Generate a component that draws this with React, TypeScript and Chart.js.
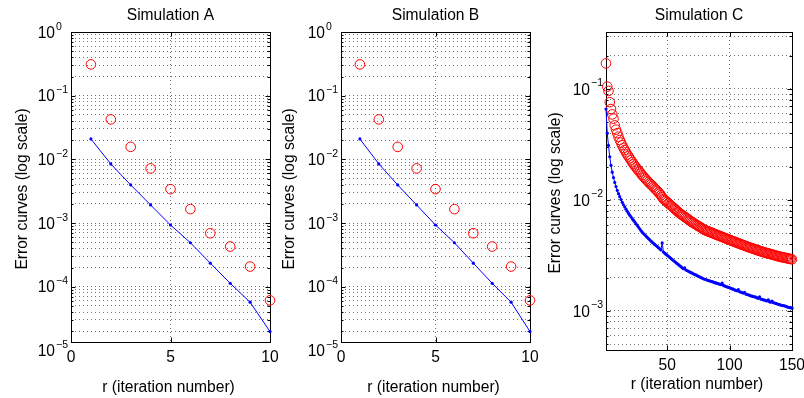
import React, { useEffect, useRef } from 'react';
import { Chart, registerables } from 'chart.js';

Chart.register(...registerables);

// ---------- data ----------
const iterAB = [1, 2, 3, 4, 5, 6, 7, 8, 9, 10];
const simA_red = [0.31, 0.0424, 0.0157, 0.0072, 0.0034, 0.00165, 0.00069, 0.000427, 0.000207, 0.000061];
const simA_blue = [0.0209, 0.00847, 0.00396, 0.00192, 0.00093, 0.00049, 0.000234, 0.000113, 0.000057, 0.0000197];
const simB_red = [0.31, 0.0424, 0.0157, 0.0072, 0.0034, 0.00165, 0.00069, 0.000427, 0.000207, 0.000061];
const simB_blue = [0.0209, 0.00847, 0.00396, 0.00192, 0.00093, 0.00049, 0.000234, 0.000113, 0.000057, 0.0000197];

const simC_red = [
  0.170, 0.105, 0.096, 0.076, 0.066, 0.059, 0.054, 0.047, 0.043, 0.040,
  0.0372, 0.0347, 0.0329, 0.0311, 0.0295, 0.0282, 0.0269, 0.0257, 0.0247, 0.0237,
  0.0228, 0.0219, 0.0211, 0.0204, 0.0197, 0.0190, 0.0185, 0.0179, 0.0173, 0.0167,
  0.0162, 0.0158, 0.0153, 0.0149, 0.0145, 0.0141, 0.0138, 0.0134, 0.0131, 0.0127,
  0.0124, 0.0121, 0.0117, 0.0114, 0.0110, 0.0106, 0.0102, 0.0100, 0.0098, 0.00955,
  0.00933, 0.00912, 0.00891, 0.00871, 0.0085, 0.00832, 0.00813, 0.00794, 0.00776, 0.0076,
  0.00745, 0.00731, 0.00718, 0.00705, 0.00692, 0.00679, 0.00667, 0.00655, 0.00643, 0.0063,
  0.00621, 0.00611, 0.00601, 0.00592, 0.00582, 0.00573, 0.00564, 0.00555, 0.00546, 0.00537,
  0.00531, 0.00526, 0.00520, 0.00515, 0.00510, 0.00505, 0.00499, 0.00494, 0.00489, 0.00484,
  0.00479, 0.00474, 0.00469, 0.00465, 0.00460, 0.00455, 0.00450, 0.00446, 0.00441, 0.00437,
  0.00432, 0.00428, 0.00424, 0.00420, 0.00416, 0.00411, 0.00407, 0.00404, 0.00399, 0.00395,
  0.00392, 0.00388, 0.00384, 0.0038, 0.00377, 0.00373, 0.00370, 0.00367, 0.00364, 0.00361,
  0.00357, 0.00354, 0.00351, 0.00348, 0.00345, 0.00342, 0.00339, 0.00337, 0.00334, 0.00332,
  0.00330, 0.00327, 0.00325, 0.00322, 0.00320, 0.00318, 0.00316, 0.00313, 0.00311, 0.00309,
  0.00307, 0.00305, 0.00304, 0.00302, 0.00300, 0.00299, 0.00297, 0.00295, 0.00294, 0.00292,
];

const simC_blue = [
  0.066, 0.040, 0.031, 0.0245, 0.0205, 0.0178, 0.0159, 0.0144, 0.0132, 0.0122,
  0.0114, 0.0107, 0.0101, 0.00953, 0.00906, 0.00864, 0.00826, 0.00791, 0.00761, 0.0073,
  0.00705, 0.00680, 0.00656, 0.00634, 0.00611, 0.00590, 0.00570, 0.00550, 0.00531, 0.00513,
  0.00499, 0.00486, 0.00473, 0.00461, 0.00449, 0.00437, 0.00427, 0.00417, 0.00407, 0.00398,
  0.00389, 0.0038, 0.00372, 0.00363, 0.00355, 0.0041, 0.00339, 0.00332, 0.00325, 0.00318,
  0.00311, 0.00304, 0.00298, 0.00291, 0.00285, 0.00279, 0.00273, 0.00267, 0.00262, 0.00256,
  0.00251, 0.00245, 0.0024, 0.00244, 0.00234, 0.00231, 0.00228, 0.00225, 0.00222, 0.00219,
  0.00216, 0.00213, 0.00211, 0.00208, 0.00205, 0.00203, 0.00200, 0.00198, 0.00195, 0.00193,
  0.00192, 0.00190, 0.00188, 0.00187, 0.00185, 0.00184, 0.00182, 0.00180, 0.00179, 0.00177,
  0.00176, 0.00174, 0.00173, 0.00178, 0.0017, 0.00168, 0.00166, 0.00165, 0.00163, 0.00162,
  0.00160, 0.00158, 0.00157, 0.00155, 0.00153, 0.00152, 0.00156, 0.00149, 0.00148, 0.00146,
  0.00145, 0.00147, 0.00142, 0.00141, 0.00140, 0.00138, 0.00137, 0.00136, 0.00135, 0.00134,
  0.00133, 0.00131, 0.00130, 0.00134, 0.00128, 0.00127, 0.00126, 0.00125, 0.00124, 0.00123,
  0.00126, 0.00121, 0.00120, 0.00123, 0.00119, 0.00118, 0.00117, 0.00116, 0.00115, 0.00114,
  0.00113, 0.00112, 0.00112, 0.00111, 0.00110, 0.00109, 0.00108, 0.00107, 0.00107, 0.00106,
];
const iterC = simC_red.map((_, i) => i + 1);

const xTicksAB = [0, 5, 10];
const xTicksC = [50, 100, 150];
const yDecadesAB = [-5, -4, -3, -2, -1, 0];
const yDecadesC = [-3, -2, -1];

const titles = ['Simulation A', 'Simulation B', 'Simulation C'];
const xAxisTitle = 'r (iteration number)';
const yAxisTitle = 'Error curves (log scale)';

// ---------- layout ----------
const W = 804;
const H = 398;
const FONT = '"Liberation Sans", Arial, Helvetica, sans-serif';
const FS = 15.6;

type Panel = {
  title: string;
  left: number; right: number; top: number; bottom: number;
  xMin: number; xMax: number; yMin: number; yMax: number;
  xTicks: number[]; yDecades: number[];
  yTitleX: number; xTitleBase: number;
  x: number[]; red: number[]; blue: number[];
};

const panels: Panel[] = [
  {
    title: titles[0], left: 71, right: 270, top: 32, bottom: 342,
    xMin: 0, xMax: 10, yMin: 1.352e-5, yMax: 1,
    xTicks: xTicksAB, yDecades: yDecadesAB, yTitleX: 22.5, xTitleBase: 392,
    x: iterAB, red: simA_red, blue: simA_blue,
  },
  {
    title: titles[1], left: 341, right: 530, top: 32, bottom: 342,
    xMin: 0, xMax: 10, yMin: 1.352e-5, yMax: 1,
    xTicks: xTicksAB, yDecades: yDecadesAB, yTitleX: 290, xTitleBase: 392,
    x: iterAB, red: simB_red, blue: simB_blue,
  },
  {
    title: titles[2], left: 606, right: 792, top: 32, bottom: 350,
    xMin: 1, xMax: 150, yMin: 4.45e-4, yMax: 0.326,
    xTicks: xTicksC, yDecades: yDecadesC, yTitleX: 556, xTitleBase: 389,
    x: iterC, red: simC_red, blue: simC_blue,
  },
];

function logGridValues(min: number, max: number): number[] {
  const out: number[] = [];
  const lo = Math.floor(Math.log10(min));
  const hi = Math.ceil(Math.log10(max));
  for (let e = lo; e <= hi; e++) {
    for (let m = 1; m <= 9; m++) {
      const v = m * Math.pow(10, e);
      if (v >= min * 0.9999 && v <= max * 1.0001) out.push(v);
    }
  }
  return out;
}

function matlabPlugin(p: Panel) {
  return {
    id: 'matlabAxes',
    beforeDatasetsDraw(chart: any) {
      const { ctx, chartArea: a, scales } = chart;
      const xs = scales.x;
      const ys = scales.y;
      ctx.save();
      ctx.strokeStyle = '#000';
      ctx.lineWidth = 1;
      ctx.beginPath();
      for (const v of logGridValues(p.yMin, p.yMax)) {
        const y = Math.round(ys.getPixelForValue(v)) + 0.5;
        const isMajor = Math.abs(Math.log10(v) - Math.round(Math.log10(v))) < 1e-6;
        const len = isMajor ? 4.5 : 2.5;
        ctx.moveTo(a.left, y); ctx.lineTo(a.left + len, y);
        ctx.moveTo(a.right, y); ctx.lineTo(a.right - len, y);
      }
      for (const v of p.xTicks) {
        const x = Math.round(xs.getPixelForValue(v)) + 0.5;
        ctx.moveTo(x, a.bottom); ctx.lineTo(x, a.bottom - 4.5);
        ctx.moveTo(x, a.top); ctx.lineTo(x, a.top + 4.5);
      }
      ctx.stroke();
      ctx.strokeRect(Math.round(a.left) + 0.5, Math.round(a.top) + 0.5,
        Math.round(a.right - a.left), Math.round(a.bottom - a.top));
      ctx.restore();
    },
    afterDraw(chart: any) {
      const { ctx, chartArea: a, scales } = chart;
      const xs = scales.x;
      const ys = scales.y;
      ctx.save();
      ctx.fillStyle = '#000';
      ctx.font = `${FS}px ${FONT}`;
      ctx.textAlign = 'center';
      ctx.textBaseline = 'alphabetic';
      ctx.fillText(p.title, (a.left + a.right) / 2, 19.5);
      for (const v of p.xTicks) {
        ctx.fillText(String(v), xs.getPixelForValue(v), a.bottom + 20);
      }
      ctx.fillText(xAxisTitle, (a.left + a.right) / 2 - 2, p.xTitleBase);
      for (const d of p.yDecades) {
        const y = ys.getPixelForValue(Math.pow(10, d));
        const baseRight = a.left - 16;
        ctx.font = `${FS}px ${FONT}`;
        ctx.textAlign = 'right';
        ctx.fillText('10', baseRight, y + 5.6);
        ctx.font = `10.5px ${FONT}`;
        ctx.textAlign = 'left';
        const exp = d === 0 ? '0' : '\u2212' + Math.abs(d);
        ctx.fillText(exp, baseRight + 1, y - 2.5);
      }
      ctx.font = `${FS}px ${FONT}`;
      ctx.translate(p.yTitleX, (a.top + a.bottom) / 2 + 2);
      ctx.rotate(-Math.PI / 2);
      ctx.textAlign = 'center';
      ctx.textBaseline = 'middle';
      ctx.fillText(yAxisTitle, 0, 0);
      ctx.restore();
    },
  };
}

function makeChart(canvas: HTMLCanvasElement, p: Panel) {
  const gridVals = logGridValues(p.yMin, p.yMax);
  const gridStyle = { color: 'rgba(0,0,0,0.55)', lineWidth: 1, drawTicks: false };
  return new Chart(canvas, {
    type: 'line',
    data: {
      datasets: [
        {
          label: 'blue',
          data: p.x.map((x, i) => ({ x, y: p.blue[i] })),
          borderColor: '#0000ff',
          backgroundColor: '#0000ff',
          borderWidth: 1,
          pointRadius: 1.6,
          pointBorderWidth: 0,
          pointBackgroundColor: '#0000ff',
          pointHoverRadius: 1.6,
          showLine: true,
          tension: 0,
          clip: false,
        } as any,
        {
          label: 'red',
          data: p.x.map((x, i) => ({ x, y: p.red[i] })),
          borderColor: '#ff0000',
          backgroundColor: 'rgba(0,0,0,0)',
          pointBorderColor: '#ff0000',
          pointBackgroundColor: 'rgba(0,0,0,0)',
          pointBorderWidth: 1,
          pointRadius: 4.8,
          pointHoverRadius: 4.8,
          showLine: false,
          clip: false,
        } as any,
      ],
    },
    options: {
      responsive: false,
      animation: false,
      events: [],
      layout: { padding: { left: 0, right: W - p.right, top: p.top, bottom: 0 } },
      plugins: { legend: { display: false }, title: { display: false }, tooltip: { enabled: false } },
      scales: {
        x: {
          type: 'linear',
          min: p.xMin,
          max: p.xMax,
          bounds: 'data',
          afterFit: (s: any) => { s.height = H - p.bottom; },
          afterBuildTicks: (s: any) => { s.ticks = p.xTicks.map((v) => ({ value: v })); },
          ticks: { display: false },
          grid: gridStyle,
          border: { display: false, dash: [1, 3] },
        },
        y: {
          type: 'logarithmic',
          min: p.yMin,
          max: p.yMax,
          bounds: 'data',
          afterFit: (s: any) => { s.width = p.left; },
          afterBuildTicks: (s: any) => { s.ticks = gridVals.map((v) => ({ value: v })); },
          ticks: { display: false },
          grid: gridStyle,
          border: { display: false, dash: [1, 3] },
        },
      },
    } as any,
    plugins: [matlabPlugin(p)],
  });
}

export default function App() {
  const r0 = useRef<HTMLCanvasElement>(null);
  const r1 = useRef<HTMLCanvasElement>(null);
  const r2 = useRef<HTMLCanvasElement>(null);
  useEffect(() => {
    const refs = [r0, r1, r2];
    const charts = panels.map((p, i) => makeChart(refs[i].current as HTMLCanvasElement, p));
    return () => charts.forEach((c) => c.destroy());
  }, []);
  const cs: React.CSSProperties = { position: 'absolute', left: 0, top: 0, width: W, height: H };
  return (
    <div style={{ position: 'absolute', left: 0, top: 0, width: W, height: H, background: '#fff' }}>
      <canvas ref={r0} width={W} height={H} style={cs} />
      <canvas ref={r1} width={W} height={H} style={cs} />
      <canvas ref={r2} width={W} height={H} style={cs} />
    </div>
  );
}
